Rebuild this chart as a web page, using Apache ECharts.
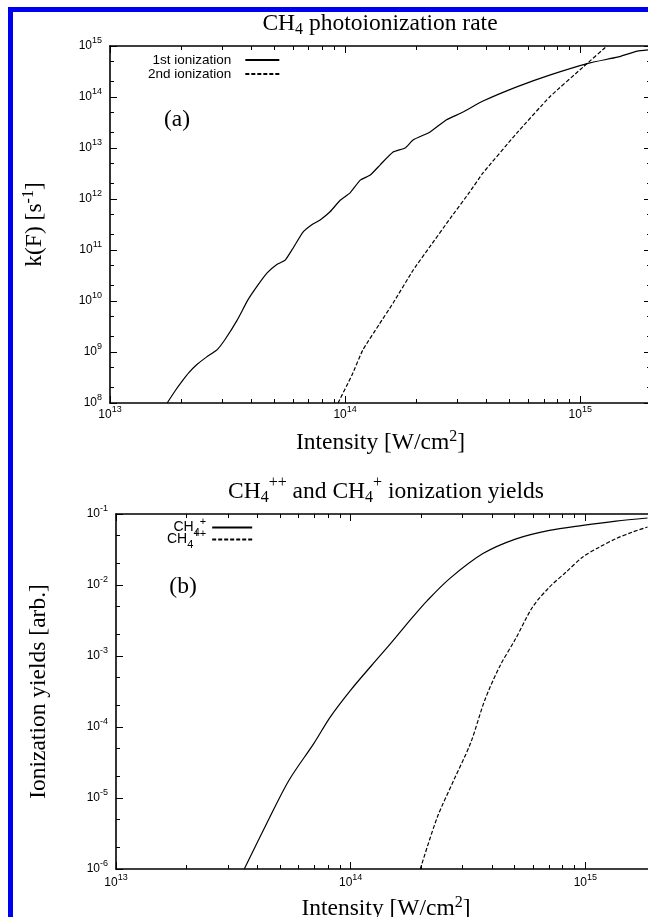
<!DOCTYPE html>
<html>
<head>
<meta charset="utf-8">
<script src="https://cdn.jsdelivr.net/npm/echarts@6/dist/echarts.min.js"></script>
<style>
  html, body { margin: 0; padding: 0; background: #fff; }
  #chart { width: 648px; height: 917px; }
</style>
</head>
<body>
<div id="chart"></div>
<script>
// (a) photoionization rate k(F) vs intensity
const firstIonI = [1.75e13, 1.9e13, 2.02e13, 2.17e13, 2.33e13, 2.57e13, 2.85e13, 3.09e13, 3.47e13, 3.86e13,
  4.27e13, 4.66e13, 5.14e13, 5.56e13, 6.03e13, 6.62e13, 7.24e13, 7.83e13, 8.63e13, 9.55e13,
  1.05e14, 1.16e14, 1.28e14, 1.41e14, 1.6e14, 1.8e14, 1.95e14, 2.29e14, 2.69e14, 3.16e14,
  3.86e14, 5.37e14, 7.41e14, 1.1e15, 1.44e15, 1.75e15, 2.0e15]
const firstIonK = [1e8, 1.78e8, 2.63e8, 3.98e8, 5.56e8, 7.94e8, 1.1e9, 1.78e9, 4.17e9, 1.05e10,
  2.09e10, 3.55e10, 5.25e10, 6.31e10, 1.12e11, 2.24e11, 3.16e11, 3.89e11, 5.62e11, 9.55e11,
  1.32e12, 2.34e12, 2.95e12, 4.68e12, 8.32e12, 1.0e13, 1.45e13, 2.04e13, 3.55e13, 5.01e13,
  8.32e13, 1.58e14, 2.69e14, 4.68e14, 6.03e14, 7.94e14, 8.51e14]
const secondIonI = [9.33e13, 1.07e14, 1.19e14, 1.4e14, 1.6e14, 1.95e14, 2.29e14, 2.8e14, 3.39e14, 3.86e14,
  5.37e14, 7.41e14, 1.03e15, 1.3e15]
const secondIonK = [1e8, 3.55e8, 1.1e9, 3.55e9, 9.12e9, 4.07e10, 1.15e11, 4.17e11, 1.38e12, 3.24e12,
  1.95e13, 1e14, 3.89e14, 1e15]

// (b) ionization yields vs intensity
const singlyI = [3.52e13, 4.46e13, 5.46e13, 6.97e13, 8.18e13, 1.0e14, 1.23e14, 1.5e14, 1.84e14, 2.12e14,
  2.64e14, 3.66e14, 5.07e14, 7.03e14, 9.75e14, 1.35e15, 1.84e15]
const singlyY = [1e-6, 4.9e-6, 1.78e-5, 5.89e-5, 1.38e-4, 3.31e-4, 7.41e-4, 1.58e-3, 3.55e-3, 6.03e-3,
  1.23e-2, 2.77e-2, 4.47e-2, 5.89e-2, 6.92e-2, 7.94e-2, 8.79e-2]
const doublyI = [1.98e14, 2.34e14, 2.75e14, 3.24e14, 3.73e14, 4.31e14, 5.06e14, 5.96e14, 7.03e14, 8.28e14,
  9.75e14, 1.15e15, 1.35e15, 1.59e15, 1.84e15]
const doublyY = [1e-6, 5.37e-6, 1.78e-5, 5.89e-5, 2.4e-4, 7.08e-4, 1.78e-3, 4.9e-3, 9.33e-3, 1.52e-2,
  2.48e-2, 3.43e-2, 4.5e-2, 5.57e-2, 6.56e-2]

// axis ranges
const xRange = [1e13, 2e15]
const rateRange = [1e8, 1e15]
const yieldRange = [1e-6, 1e-1]
const xMinorMults = [2, 3, 4, 5, 6, 7, 8, 9]
const yMinorMults = [2, 5]

const SANS = 'Liberation Sans'
const SERIF = 'Liberation Serif'

const zip = (a, b) => a.map((v, i) => [v, b[i]])

const tickRich = {
  b: { fontFamily: SANS, fontSize: 12, color: '#000' },
  s: { fontFamily: SANS, fontSize: 9, color: '#000', padding: [0, 0, 10, 0] }
}
const serifRich = {
  n: { fontFamily: SERIF, fontSize: 23.5, color: '#000' },
  p: { fontFamily: SERIF, fontSize: 16, color: '#000', padding: [0, 0, 12, 0] },
  sb: { fontFamily: SERIF, fontSize: 16, color: '#000', padding: [12, 0, 0, 0] },
  sp: { fontFamily: SERIF, fontSize: 16, color: '#000', padding: [0, 0, 18, 0] }
}

function powLabel(v) {
  const e = Math.log10(v)
  const n = Math.round(e)
  if (Math.abs(e - n) > 1e-6) return ''
  return '{b|10}{s|' + n + '}'
}

function minorValues(lo, hi, mults) {
  const out = []
  for (let n = Math.floor(lo); n <= Math.ceil(hi); n++) {
    mults.forEach(m => {
      const v = n + Math.log10(m)
      if (v > lo + 1e-9 && v < hi - 1e-9) out.push(v)
    })
  }
  return out
}

// one side of a panel frame: log axis with major ticks + hidden value axis carrying the minor ticks
function sideAxes(gridIndex, position, range, mults, extra) {
  const major = {
    type: 'log', logBase: 10, gridIndex, position, min: range[0], max: range[1],
    axisLine: { show: true, onZero: false, lineStyle: { color: '#000', width: 1.6 } },
    axisTick: { show: true, inside: true, length: 7, lineStyle: { color: '#000', width: 1 } },
    axisLabel: { show: false },
    splitLine: { show: false }
  }
  if (extra) Object.assign(major, extra)
  const lo = Math.log10(range[0]), hi = Math.log10(range[1])
  const minor = {
    type: 'value', gridIndex, position, min: lo, max: hi,
    axisLine: { show: false, onZero: false },
    axisTick: { show: true, inside: true, length: 4, customValues: minorValues(lo, hi, mults), lineStyle: { color: '#000', width: 1 } },
    axisLabel: { show: false },
    splitLine: { show: false }
  }
  return [major, minor]
}

function labelled(margin, name, nameGap) {
  return {
    axisLabel: { show: true, margin, color: '#000', formatter: powLabel, rich: tickRich },
    name, nameLocation: 'middle', nameGap,
    nameTextStyle: { color: '#000', rich: serifRich }
  }
}

const intensityName = '{n|Intensity [W/cm}{p|2}{n|]}'

const xAxes = [
  ...sideAxes(0, 'bottom', xRange, xMinorMults, labelled(2, intensityName, 26)),
  ...sideAxes(0, 'top', xRange, xMinorMults),
  ...sideAxes(1, 'bottom', xRange, xMinorMults, labelled(4, intensityName, 26)),
  ...sideAxes(1, 'top', xRange, xMinorMults)
]
const yAxes = [
  ...sideAxes(0, 'left', rateRange, yMinorMults, labelled(8, '{n|k(F) [s}{p|-1}{n|]}', 61)),
  ...sideAxes(0, 'right', rateRange, yMinorMults),
  ...sideAxes(1, 'left', yieldRange, yMinorMults, labelled(8, '{n|Ionization yields [arb.]}', 65)),
  ...sideAxes(1, 'right', yieldRange, yMinorMults)
]

const lineBase = { type: 'line', symbol: 'none', clip: true, itemStyle: { color: '#000' } }

const option = {
  animation: false,
  backgroundColor: '#fff',
  grid: [
    { left: 110, top: 46, right: -3, height: 357, outerBoundsMode: 'none' },
    { left: 116, top: 514, right: -8, height: 355, outerBoundsMode: 'none' }
  ],
  xAxis: xAxes,
  yAxis: yAxes,
  legend: [
    {
      data: ['1st ionization', '2nd ionization'], orient: 'vertical', align: 'right',
      left: 148, top: 53, padding: 0, itemGap: 0, itemWidth: 34, itemHeight: 13, selectedMode: false,
      itemStyle: { opacity: 0 },
      textStyle: { fontFamily: SANS, fontSize: 13.5, color: '#000', lineHeight: 13, padding: [0, 9, 0, 0] }
    },
    {
      data: ['CH4+', 'CH4++'], orient: 'vertical', align: 'right',
      left: 167, top: 516, padding: 0, itemGap: -10, itemWidth: 40, itemHeight: 13, selectedMode: false,
      itemStyle: { opacity: 0 },
      formatter: name => name === 'CH4+' ? '{t|CH}{sb|4}{sp|+}' : '{t|CH}{sb|4}{sp|++}',
      textStyle: {
        color: '#000', padding: [0, 1, 0, 0],
        rich: {
          t: { fontFamily: SANS, fontSize: 14, color: '#000' },
          sb: { fontFamily: SANS, fontSize: 11, color: '#000', padding: [10, 0, 0, 0] },
          sp: { fontFamily: SANS, fontSize: 11, color: '#000', padding: [0, 0, 12, 0] }
        }
      }
    }
  ],
  graphic: [
    { type: 'rect', shape: { x: 8, y: 7, width: 640, height: 5 }, style: { fill: '#0000f0' } },
    { type: 'rect', shape: { x: 8, y: 7, width: 5, height: 910 }, style: { fill: '#0000f0' } },
    {
      type: 'text', x: 380, y: 24,
      style: { text: '{n|CH}{sb|4}{n| photoionization rate}', rich: serifRich, align: 'center', verticalAlign: 'middle', textAlign: 'center', textVerticalAlign: 'middle' }
    },
    {
      type: 'text', x: 386, y: 492,
      style: { text: '{n|CH}{sb|4}{sp|++}{n| and CH}{sb|4}{sp|+}{n| ionization yields}', rich: serifRich, align: 'center', verticalAlign: 'middle', textAlign: 'center', textVerticalAlign: 'middle' }
    },
    {
      type: 'text', x: 177, y: 120,
      style: { text: '(a)', fontFamily: SERIF, fontSize: 23.5, fill: '#000', align: 'center', verticalAlign: 'middle', textAlign: 'center', textVerticalAlign: 'middle' }
    },
    {
      type: 'text', x: 183, y: 587,
      style: { text: '(b)', fontFamily: SERIF, fontSize: 23.5, fill: '#000', align: 'center', verticalAlign: 'middle', textAlign: 'center', textVerticalAlign: 'middle' }
    }
  ],
  series: [
    { ...lineBase, name: '1st ionization', xAxisIndex: 0, yAxisIndex: 0, data: zip(firstIonI, firstIonK), smooth: 0.15,
      lineStyle: { color: '#000', width: 1.2 } },
    { ...lineBase, name: '2nd ionization', xAxisIndex: 0, yAxisIndex: 0, data: zip(secondIonI, secondIonK), smooth: 0.15,
      lineStyle: { color: '#000', width: 1.2, type: [4, 2] } },
    { ...lineBase, name: 'CH4+', xAxisIndex: 4, yAxisIndex: 4, data: zip(singlyI, singlyY), smooth: 0.3,
      lineStyle: { color: '#000', width: 1.2 } },
    { ...lineBase, name: 'CH4++', xAxisIndex: 4, yAxisIndex: 4, data: zip(doublyI, doublyY), smooth: 0.3,
      lineStyle: { color: '#000', width: 1.2, type: [4, 2] } }
  ]
}

const chart = echarts.init(document.getElementById('chart'), null, { renderer: 'canvas' })
chart.setOption(option)
</script>
</body>
</html>
